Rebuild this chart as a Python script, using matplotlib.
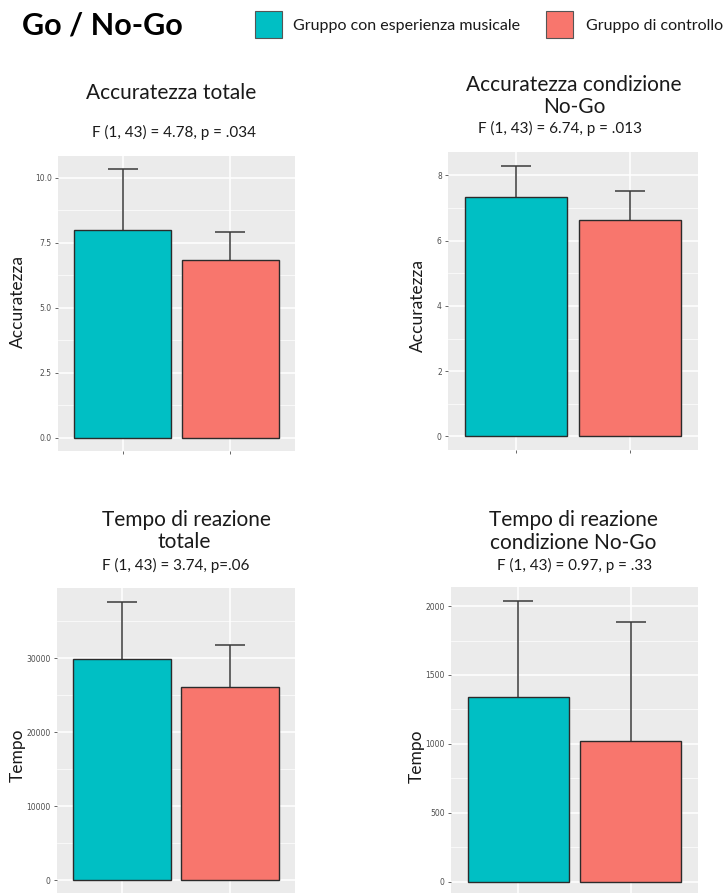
import numpy as np
import matplotlib
matplotlib.use("Agg")
import matplotlib.pyplot as plt
from matplotlib.patches import Rectangle

W, H = 723, 893

groups = ["Gruppo con esperienza musicale", "Gruppo di controllo"]
colors = ["#00BFC4", "#F8766D"]

# means and standard deviations per panel
acc_tot_mean = [8.0, 6.82]
acc_tot_sd = [2.32, 1.08]
acc_nogo_mean = [7.35, 6.64]
acc_nogo_sd = [0.95, 0.88]
rt_tot_mean = [29900, 26100]
rt_tot_sd = [7700, 5700]
rt_nogo_mean = [1341, 1023]
rt_nogo_sd = [695, 861]

titles = [
    ["Accuratezza totale"],
    ["Accuratezza condizione", "No-Go"],
    ["Tempo di reazione", "totale"],
    ["Tempo di reazione", "condizione No-Go"],
]
stats = [
    "F (1, 43) = 4.78, p = .034",
    "F (1, 43) = 6.74, p = .013",
    "F (1, 43) = 3.74, p=.06",
    "F (1, 43) = 0.97, p = .33",
]
ylabels = ["Accuratezza", "Accuratezza", "Tempo", "Tempo"]
yticks = [
    [0, 2.5, 5.0, 7.5, 10.0],
    [0, 2, 4, 6, 8],
    [0, 10000, 20000, 30000],
    [0, 500, 1000, 1500, 2000],
]
yticklabels = [
    ["0.0", "2.5", "5.0", "7.5", "10.0"],
    ["0", "2", "4", "6", "8"],
    ["0", "10000", "20000", "30000"],
    ["0", "500", "1000", "1500", "2000"],
]
means = [acc_tot_mean, acc_nogo_mean, rt_tot_mean, rt_nogo_mean]
sds = [acc_tot_sd, acc_nogo_sd, rt_tot_sd, rt_nogo_sd]

FONT = "Lato"

fig = plt.figure(figsize=(W / 100, H / 100), dpi=100)


def fx(px):
    return px / W


def fy(py):
    return 1 - py / H


# panel boxes in pixels: left, top, right, bottom
boxes = [
    (58, 156, 295, 451),
    (448, 152, 698, 450),
    (57, 588, 295, 894),
    (451, 587, 698, 896),
]
# title lines (x center, y center), stat line, y-label centre
title_pos = [
    [(171, 93)],
    [(574, 85), (574, 107)],
    [(186, 520), (184, 542)],
    [(573, 520), (573, 543)],
]
stat_pos = [(174, 132), (560, 128), (176, 565), (575, 565)]
ylabel_pos = [(18, 301), (418, 306), (18, 755), (417, 756)]

for i in range(4):
    l, t, r, b = boxes[i]
    ax = fig.add_axes([fx(l), fy(b), fx(r - l), (b - t) / H])
    ax.set_facecolor("#EBEBEB")
    x = np.array([1, 2])
    top = max(m + s for m, s in zip(means[i], sds[i]))
    ax.set_ylim(-0.05 * top, 1.05 * top)
    ax.set_xlim(0.4, 2.6)

    # grid lines
    for v in yticks[i]:
        ax.axhline(v, color="white", lw=1.1, zorder=0)
    step = yticks[i][1] - yticks[i][0]
    for k in range(len(yticks[i])):
        ax.axhline(yticks[i][k] + step / 2, color="white", lw=0.5, zorder=0)
    for v in x:
        ax.axvline(v, color="white", lw=1.1, zorder=0)

    ax.errorbar(x, means[i], yerr=sds[i], fmt="none", ecolor="#3a3a3a",
                elinewidth=1.1, capsize=11, capthick=1.1, zorder=1)
    ax.bar(x, means[i], width=0.9, color=colors, edgecolor="#2b2b2b",
           linewidth=1.0, zorder=2)

    ax.set_yticks(yticks[i])
    ax.set_yticklabels(yticklabels[i])
    ax.set_xticks(x)
    ax.set_xticklabels(["", ""])
    ax.tick_params(axis="both", length=2.5, width=0.6, color="#4d4d4d",
                   labelsize=5.5, labelcolor="#4d4d4d", pad=2)
    for sp in ax.spines.values():
        sp.set_visible(False)

    for line, (cx, cy) in zip(titles[i], title_pos[i]):
        fig.text(fx(cx), fy(cy), line, ha="center", va="center",
                 fontsize=15, family=FONT, color="#1a1a1a")
    sx, sy = stat_pos[i]
    fig.text(fx(sx), fy(sy), stats[i], ha="center", va="center",
             fontsize=11, family=FONT, color="#1a1a1a")
    lx, ly = ylabel_pos[i]
    fig.text(fx(lx), fy(ly), ylabels[i], ha="center", va="center",
             rotation=90, fontsize=12.5, family=FONT, color="#1a1a1a")

# header and legend
fig.text(fx(22), fy(25), "Go / No-Go", ha="left", va="center",
         fontsize=22, fontweight="bold", family=FONT, color="black")
legend_boxes = [(255, 11), (546, 11)]
legend_text_x = [293, 586]
for (bx, by), tx, c, g in zip(legend_boxes, legend_text_x, colors, groups):
    fig.patches.append(Rectangle((fx(bx), fy(by + 27)), fx(27), 27 / H,
                                 transform=fig.transFigure, facecolor=c,
                                 edgecolor="#555555", linewidth=0.8))
    fig.text(fx(tx), fy(26), g, ha="left", va="center",
             fontsize=11.5, family=FONT, color="#1a1a1a")

fig.savefig("out.png", dpi=100)
